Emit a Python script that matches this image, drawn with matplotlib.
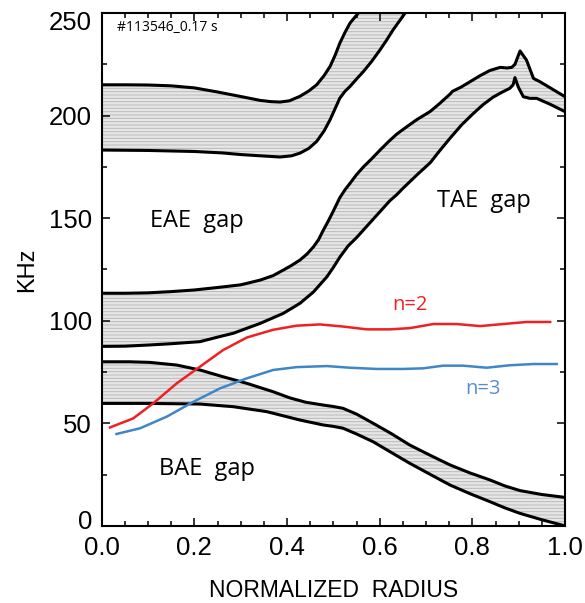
import matplotlib
matplotlib.use("Agg")
import matplotlib.pyplot as plt
import matplotlib.transforms as mtransforms
import numpy as np

# ---------------- data ----------------
# EAE gap band (upper / lower boundary)
eae_up_x = [0.0, 0.05, 0.1, 0.15, 0.2, 0.25, 0.3, 0.342, 0.365, 0.385, 0.405, 0.428, 0.447,
            0.464, 0.48, 0.493, 0.504, 0.514, 0.525, 0.536, 0.554, 0.575]
eae_up_y = [215, 215, 214.9, 214.5, 213.5, 211.5, 209.3, 207.4, 206.8, 206.6, 207.2, 209.4, 212,
            215, 219.5, 224, 229.5, 235.3, 240.5, 245.1, 250, 256]
eae_lo_x = [0.0, 0.1, 0.2, 0.26, 0.3, 0.342, 0.385, 0.41, 0.428, 0.447, 0.464, 0.48, 0.493,
            0.504, 0.514, 0.525, 0.536, 0.55, 0.565, 0.583, 0.601, 0.615, 0.629, 0.655, 0.68]
eae_lo_y = [183.2, 183, 182.5, 181.8, 181, 180.4, 179.8, 180.4, 181.7, 184, 187.4, 192.5, 198,
            203.5, 208.5, 211.8, 214.2, 217.8, 221.5, 226.5, 232.1, 236.8, 241.8, 250, 258]

# TAE gap band
tae_up_x = [0.0, 0.05, 0.1, 0.15, 0.2, 0.25, 0.3, 0.342, 0.37, 0.392, 0.41, 0.428, 0.443, 0.457,
            0.468, 0.478, 0.49, 0.5, 0.514, 0.525, 0.536, 0.55, 0.565, 0.583, 0.6, 0.62, 0.637,
            0.66, 0.68, 0.709, 0.73, 0.752, 0.757, 0.775, 0.795, 0.817, 0.838, 0.86, 0.875,
            0.885, 0.892, 0.903, 0.917, 0.932, 0.946, 1.0]
tae_up_y = [113.4, 113.4, 113.6, 114.2, 115, 116.2, 117.5, 119.8, 122, 124.7, 127, 129.6, 132.5, 136,
            139.5, 144, 149, 153.5, 160, 163.8, 167, 171.2, 175, 179, 183, 187.5, 191,
            194.8, 198, 202, 206, 210.5, 211.8, 213.8, 216.5, 219.5, 222, 223.5, 223.2,
            223.5, 225, 231.5, 227, 218.1, 216.5, 209.2]
tae_lo_x = [0.0, 0.05, 0.104, 0.15, 0.212, 0.25, 0.284, 0.342, 0.392, 0.428, 0.457, 0.486, 0.5,
            0.514, 0.532, 0.55, 0.568, 0.586, 0.604, 0.622, 0.637, 0.65, 0.68, 0.709, 0.73,
            0.752, 0.777, 0.802, 0.823, 0.845, 0.865, 0.881, 0.888, 0.892, 0.899, 0.91, 0.924,
            0.939, 0.97, 1.0]
tae_lo_y = [87.5, 87.6, 88.2, 88.8, 89.8, 92.0, 93.9, 98.7, 103.6, 108.5, 114, 121.4, 126,
            131, 136.5, 140.5, 145, 149.5, 154, 158.5, 161.5, 164.5, 171, 177, 183,
            189, 195.5, 201, 205.3, 209, 211.5, 213.3, 215, 218.5, 214, 209.2, 208.4,
            208.4, 205.3, 201.9]

# BAE gap band
bae_up_x = [0.0, 0.06, 0.104, 0.162, 0.212, 0.262, 0.313, 0.37, 0.406, 0.44, 0.478, 0.5, 0.521,
            0.55, 0.586, 0.625, 0.665, 0.71, 0.752, 0.795, 0.838, 0.87, 0.903, 0.95, 1.0]
bae_up_y = [80, 80, 79.7, 78.4, 76, 72.7, 69.5, 65.4, 62.4, 60.3, 58.9, 58.2, 57.3,
            54.5, 50, 45, 39.4, 34.3, 29.7, 25.8, 22.4, 19.5, 17.2, 15.3, 13.9]
bae_lo_x = [0.0, 0.1, 0.212, 0.284, 0.356, 0.428, 0.478, 0.5, 0.521, 0.55, 0.586, 0.625,
            0.665, 0.71, 0.752, 0.795, 0.838, 0.87, 0.903, 0.95, 1.0]
bae_lo_y = [59.7, 59.7, 59.4, 58.1, 55.7, 51.6, 49.2, 48.5, 47.6, 44.8, 41, 35.8,
            30.5, 25, 19.9, 15.7, 11.8, 8.8, 6.1, 3, 0]

# Mode frequencies
n2_x = [0.018, 0.068, 0.111, 0.162, 0.212, 0.262, 0.313, 0.37, 0.421, 0.471, 0.52, 0.572,
        0.622, 0.665, 0.716, 0.766, 0.817, 0.867, 0.917, 0.968]
n2_y = [48, 52.4, 59.7, 69.5, 77.6, 85.7, 91.8, 95.6, 97.6, 98.2, 97.2, 95.8,
        95.8, 96.4, 98.4, 98.4, 97.4, 98.4, 99.4, 99.4]
n3_x = [0.032, 0.083, 0.14, 0.198, 0.255, 0.313, 0.37, 0.421, 0.486, 0.536, 0.594, 0.651,
        0.694, 0.737, 0.78, 0.831, 0.881, 0.932, 0.982]
n3_y = [44.8, 47.6, 53.2, 60.5, 67, 71.9, 76, 77.4, 77.9, 77.1, 76.5, 76.5,
        76.8, 78.1, 78.1, 77.1, 78.3, 78.9, 78.9]

x_ticks = [0.0, 0.2, 0.4, 0.6, 0.8, 1.0]
y_ticks = [0, 50, 100, 150, 200, 250]

# ---------------- figure ----------------
plt.rcParams['hatch.linewidth'] = 0.7
fig = plt.figure(figsize=(5.85, 6.03), dpi=100)
ax = fig.add_axes([101.7 / 585, 1 - 525.9 / 603, (565 - 101.7) / 585, (525.9 - 13) / 603])

def band(xu, yu, xl, yl):
    px = list(xu) + list(xl)[::-1]
    py = list(yu) + list(yl)[::-1]
    ax.fill(px, py, facecolor='#e6e6e6', edgecolor='#bababa', hatch='-----', linewidth=0, zorder=1)
    ax.plot(xu, yu, color='black', lw=2.2, zorder=3, solid_joinstyle='round', solid_capstyle='round')
    ax.plot(xl, yl, color='black', lw=2.2, zorder=3, solid_joinstyle='round', solid_capstyle='round')

band(eae_up_x, eae_up_y, eae_lo_x, eae_lo_y)
band(tae_up_x, tae_up_y, tae_lo_x, tae_lo_y)
band(bae_up_x, bae_up_y, bae_lo_x, bae_lo_y)

ax.plot(n2_x, n2_y, color='#ee2024', lw=1.8, zorder=4, solid_joinstyle='round')
ax.plot(n3_x, n3_y, color='#3f86c8', lw=1.8, zorder=4, solid_joinstyle='round')

ax.set_xlim(0, 1)
ax.set_ylim(0, 250)
ax.set_xticks(x_ticks)
ax.set_xticklabels([f"{v:.1f}" for v in x_ticks])
ax.set_yticks(y_ticks)
ax.set_yticklabels([str(v) for v in y_ticks])
ax.set_xticks(np.arange(0, 1.0001, 0.05), minor=True)
ax.set_yticks(np.arange(0, 250.1, 25), minor=True)
ax.tick_params(which='both', direction='in', top=True, right=True, width=1.1, color='black')
ax.tick_params(which='major', length=6, labelsize=18.5, pad=7)
ax.tick_params(which='minor', length=3.5)
for lab in ax.get_xticklabels() + ax.get_yticklabels():
    lab.set_family('Liberation Sans')
for s in ax.spines.values():
    s.set_linewidth(1.5)

# end labels of the y axis are nudged inward (as in the original)
yt = ax.yaxis.get_major_ticks()
lab0 = yt[0].label1
lab0.set_transform(lab0.get_transform() + mtransforms.ScaledTranslation(0, 6 / 100, fig.dpi_scale_trans))
labN = yt[-1].label1
labN.set_transform(labN.get_transform() + mtransforms.ScaledTranslation(0, -7 / 100, fig.dpi_scale_trans))

ax.set_xlabel('NORMALIZED  RADIUS', fontsize=16.5, family='Liberation Sans', labelpad=14)
ax.set_ylabel('KHz', fontsize=17, family='Liberation Sans', labelpad=8)

tf = 'Open Sans'
ax.text(0.034, 242.7, '#113546_0.17 s', fontsize=10, family=tf, va='center', ha='left')
ax.text(0.205, 148.7, 'EAE  gap', fontsize=17, family=tf, va='center', ha='center')
ax.text(0.824, 158.6, 'TAE  gap', fontsize=17, family=tf, va='center', ha='center')
ax.text(0.227, 27.6, 'BAE  gap', fontsize=17, family=tf, va='center', ha='center')
ax.text(0.666, 107.6, 'n=2', fontsize=14.5, family=tf, va='center', ha='center', color='#ee2024')
ax.text(0.824, 66.6, 'n=3', fontsize=14.5, family=tf, va='center', ha='center', color='#5b8ccb')

fig.savefig('out.png', dpi=100)
